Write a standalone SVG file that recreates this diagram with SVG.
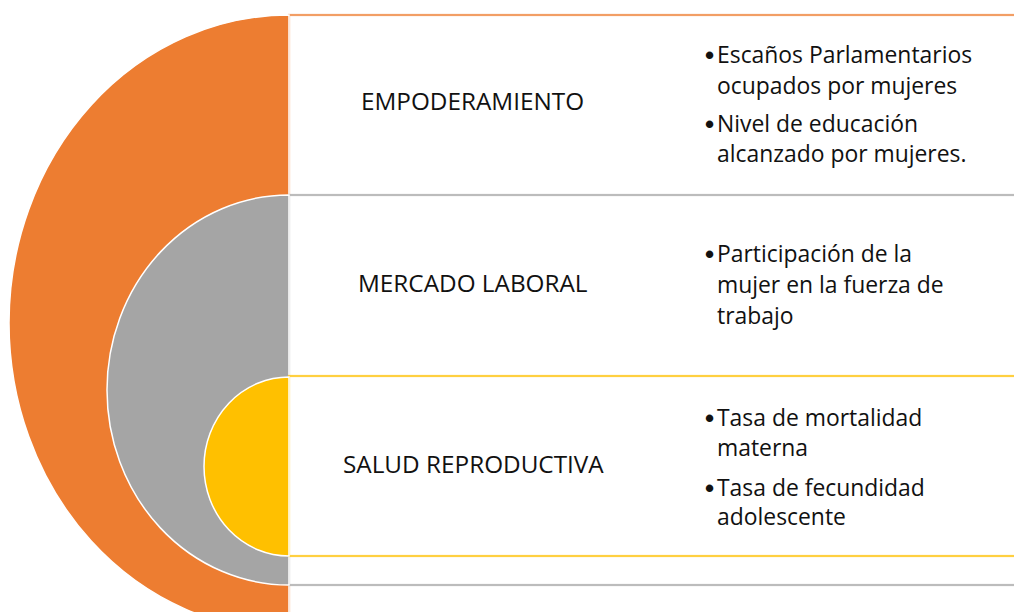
<svg xmlns="http://www.w3.org/2000/svg" width="1014" height="612" viewBox="0 0 1014 612">
<style>
.box{fill:#ffffff;stroke-width:2.2;stroke-opacity:0.75}
.half{stroke:#ffffff;stroke-width:1.5}
.head{font-family:"Open Sans","Liberation Sans",sans-serif;font-size:24.3px;fill:#111111}
.item{font-family:"Open Sans","Liberation Sans",sans-serif;font-size:22.9px;fill:#111111}
.dot{font-family:"Liberation Sans",sans-serif;font-size:26px;font-weight:bold;fill:#111111}
</style>
<rect x="0" y="0" width="1014" height="612" fill="#ffffff"/>
<g id="empoderamiento">
<rect class="box" x="289" y="15" width="800" height="614" stroke="#ED7D31"/>
<path class="half" d="M289,15 A280,308 0 0 0 289,631 Z" fill="#ED7D31"/>
<text class="head" x="361" y="110">EMPODERAMIENTO</text>
<text class="dot" x="705" y="64">•</text>
<text class="item" x="717" y="63">Escaños Parlamentarios</text>
<text class="item" x="717" y="94">ocupados por mujeres</text>
<text class="dot" x="705" y="133">•</text>
<text class="item" x="717" y="132">Nivel de educación</text>
<text class="item" x="717" y="162">alcanzado por mujeres.</text>
</g>
<g id="mercado-laboral">
<rect class="box" x="289" y="195" width="800" height="390" stroke="#A5A5A5"/>
<path class="half" d="M289,195 A182,195 0 0 0 289,585 Z" fill="#A5A5A5"/>
<text class="head" x="358" y="292">MERCADO LABORAL</text>
<text class="dot" x="705" y="263">•</text>
<text class="item" x="717" y="262">Participación de la</text>
<text class="item" x="717" y="293">mujer en la fuerza de</text>
<text class="item" x="717" y="324">trabajo</text>
</g>
<g id="salud-reproductiva">
<rect class="box" x="289" y="376" width="800" height="180" stroke="#FFC000"/>
<path class="half" d="M289,377 A85,89.5 0 0 0 289,556 Z" fill="#FFC000"/>
<text class="head" x="343" y="473">SALUD REPRODUCTIVA</text>
<text class="dot" x="705" y="427">•</text>
<text class="item" x="717" y="426">Tasa de mortalidad</text>
<text class="item" x="717" y="456">materna</text>
<text class="dot" x="705" y="497">•</text>
<text class="item" x="717" y="496">Tasa de fecundidad</text>
<text class="item" x="717" y="525">adolescente</text>
</g>
<g id="connectors"></g>
</svg>
